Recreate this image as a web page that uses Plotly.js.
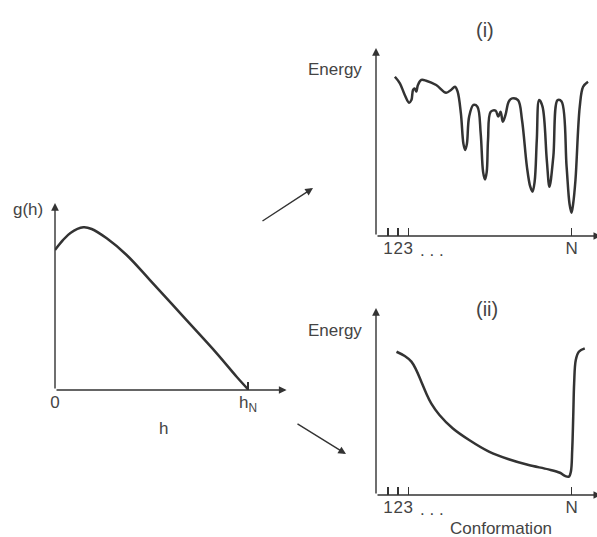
<!DOCTYPE html>
<html><head><meta charset="utf-8">
<script src="https://cdn.plot.ly/plotly-3.0.1.min.js"></script>
<style>html,body{margin:0;padding:0;background:#fff}</style>
</head><body><div id="chart" style="width:597px;height:537px"></div>
<script>
// g(h) curve (left panel), h in units of h_N
const hValues = [0, 0.04, 0.08, 0.147, 0.19, 0.268, 0.371, 0.492, 0.665, 0.838, 0.941, 1.0];
const gValues = [0.749, 0.800, 0.840, 0.870, 0.861, 0.811, 0.722, 0.588, 0.392, 0.196, 0.071, 0.004];

// (i) rugged energy landscape
const confI = [1.68, 2.17, 2.65, 3.07, 3.30, 3.46, 3.62, 3.78, 3.94, 4.27, 4.75, 5.73, 6.70, 7.18, 7.57, 7.83,
  8.15, 8.40, 8.57, 8.74, 8.96, 9.38, 9.77, 10.09, 10.33, 10.51, 10.68, 10.81, 11.07, 11.55, 11.81, 12.04, 12.26, 12.52, 12.84, 13.17,
  13.75, 14.14, 14.62, 14.95, 15.17, 15.38, 15.59, 15.82, 16.15, 16.57, 16.83, 17.21, 17.63, 18.02, 18.51, 18.80, 18.99, 19.15, 19.38,
  19.80, 20.13, 20.61];
const energyI = [0.847, 0.812, 0.750, 0.709, 0.723, 0.777, 0.785, 0.768, 0.803, 0.830, 0.826, 0.803, 0.762, 0.777, 0.794, 0.768,
  0.652, 0.490, 0.457, 0.490, 0.635, 0.697, 0.688, 0.546, 0.340, 0.301, 0.340, 0.511, 0.661, 0.667, 0.635, 0.661, 0.608, 0.644, 0.715, 0.732,
  0.723, 0.617, 0.369, 0.262, 0.236, 0.290, 0.511, 0.723, 0.688, 0.404, 0.262, 0.422, 0.723, 0.715, 0.369, 0.170, 0.124, 0.170, 0.298,
  0.688, 0.794, 0.821];

// (ii) smooth funnel
const confII = [1.84, 2.65, 3.30, 3.78, 4.27, 4.75, 5.24, 6.05, 7.34, 8.96, 10.90, 12.84, 14.79, 16.73, 17.86, 18.35,
  18.73, 18.93, 19.06, 19.16, 19.25, 19.41, 19.71, 20.29];
const energyII = [0.766, 0.743, 0.713, 0.668, 0.606, 0.544, 0.490, 0.428, 0.357, 0.294, 0.232, 0.191, 0.160, 0.137, 0.119, 0.102,
  0.098, 0.125, 0.241, 0.419, 0.597, 0.722, 0.766, 0.784];

const confTicks = [1, 2, 3, 19];
const confTickText = ['1', '2', '3', 'N'];
const hTicks = [0, 1];
const hTickText = ['0', 'h<sub>N</sub>'];

const W = 597, H = 537;
const X = p => p / W;
const Y = p => 1 - p / H;
const INK = '#333';
const TXT = '#444';
const FONT = '"Liberation Sans", Arial, Helvetica, sans-serif';

const line = {color: INK, width: 2.5, shape: 'spline', smoothing: 1};
const traces = [
  {x: hValues, y: gValues, xaxis: 'x', yaxis: 'y', mode: 'lines', line: line, hoverinfo: 'skip'},
  {x: confI, y: energyI, xaxis: 'x2', yaxis: 'y2', mode: 'lines', line: line, hoverinfo: 'skip'},
  {x: confII, y: energyII, xaxis: 'x3', yaxis: 'y3', mode: 'lines', line: line, hoverinfo: 'skip'}
];

function xax(domain, range, tv, tt, anchor) {
  return {domain: domain, range: range, anchor: anchor, showgrid: false, zeroline: false, showline: false,
    ticks: 'inside', ticklen: 8, tickwidth: 1.4, tickcolor: INK, tickvals: tv, ticktext: tt, tickangle: 0,
    tickfont: {size: 17, color: TXT, family: FONT}, fixedrange: true};
}
function yax(domain, anchor) {
  return {domain: domain, range: [0, 1], anchor: anchor, showgrid: false, zeroline: false, showline: false,
    showticklabels: false, ticks: '', fixedrange: true};
}

function axisArrow(xr, yr, x, y, ax, ay) {
  return {xref: xr, yref: yr, axref: xr, ayref: yr, x: x, y: y, ax: ax, ay: ay, text: '',
    showarrow: true, arrowhead: 2, arrowsize: 1.1, arrowwidth: 1.4, arrowcolor: INK, standoff: 0};
}
function label(text, px, py, size) {
  return {xref: 'paper', yref: 'paper', x: X(px), y: Y(py), text: text, showarrow: false,
    xanchor: 'center', yanchor: 'middle', font: {size: size || 17, color: TXT, family: FONT}};
}
function pointer(x0, y0, x1, y1) {
  return {xref: 'paper', yref: 'paper', x: X(x1), y: Y(y1), axref: 'pixel', ayref: 'pixel',
    ax: x0 - x1, ay: y0 - y1, text: '', showarrow: true, arrowhead: 2, arrowsize: 1.1,
    arrowwidth: 1.4, arrowcolor: INK, standoff: 0};
}

const cx0 = -0.17;
const annotations = [
  axisArrow('x', 'y', 1.2, 0, 0, 0),
  axisArrow('x', 'y', 0, 1, 0, 0),
  axisArrow('x2', 'y2', 21.9, 0, cx0, 0),
  axisArrow('x2', 'y2', cx0, 1, cx0, 0),
  axisArrow('x3', 'y3', 21.9, 0, cx0, 0),
  axisArrow('x3', 'y3', cx0, 1, cx0, 0),
  label('g(h)', 28, 209),
  label('h', 163, 428),
  label('Energy', 335, 70),
  label('Energy', 335, 330),
  label('(i)', 485, 30, 20),
  label('(ii)', 487, 309, 20),
  label('. . .', 432, 250),
  label('. . .', 432, 509),
  label('Conformation', 501, 528),
  pointer(261, 222, 313, 188),
  pointer(296, 423, 346, 454)
];

const layout = {
  width: W, height: H, autosize: false, showlegend: false,
  margin: {l: 0, r: 0, t: 0, b: 0}, paper_bgcolor: '#fff', plot_bgcolor: 'rgba(0,0,0,0)',
  font: {family: FONT, color: TXT},
  xaxis: xax([X(55), X(286.6)], [0, 1.2], hTicks, hTickText, 'y'),
  yaxis: yax([Y(390), Y(203)], 'x'),
  xaxis2: xax([X(376), 1], [cx0, 21.49], confTicks, confTickText, 'y2'),
  yaxis2: yax([Y(236), Y(48)], 'x2'),
  xaxis3: xax([X(376), 1], [cx0, 21.49], confTicks, confTickText, 'y3'),
  yaxis3: yax([Y(495), Y(308)], 'x3'),
  annotations: annotations
};

Plotly.newPlot('chart', traces, layout, {displayModeBar: false, staticPlot: true});
</script></body></html>
